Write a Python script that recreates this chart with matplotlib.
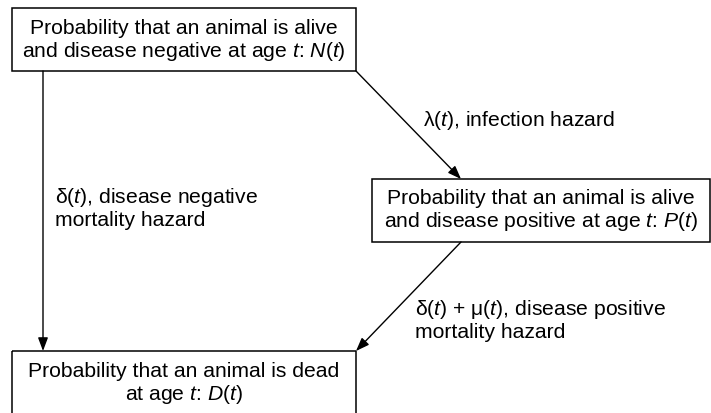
import matplotlib
matplotlib.use("Agg")
import matplotlib.pyplot as plt
from matplotlib.patches import Rectangle

plt.rcParams['font.family'] = ['Liberation Sans', 'DejaVu Sans']
plt.rcParams['mathtext.fontset'] = 'custom'
plt.rcParams['mathtext.rm'] = 'Liberation Sans'
plt.rcParams['mathtext.it'] = 'Liberation Sans:italic'

# Box contents (states)
box_texts = [
    "Probability that an animal is alive\nand disease negative at age $t$: $N$($t$)",
    "Probability that an animal is alive\nand disease positive at age $t$: $P$($t$)",
    "Probability that an animal is dead\nat age $t$: $D$($t$)",
]
# Transition labels
hazard_labels = [
    "λ($t$), infection hazard",
    "δ($t$), disease negative\nmortality hazard",
    "δ($t$) + μ($t$), disease positive\nmortality hazard",
]

W, H = 711, 413
fig = plt.figure(figsize=(W / 100, H / 100), dpi=100)
ax = fig.add_axes([0, 0, 1, 1])
ax.set_xlim(0, W)
ax.set_ylim(H, 0)
ax.axis('off')

FS = 15.2
LS = 1.17
# box geometry: (x0, y0, x1, y1, text centre y) in pixel coordinates
boxes = [(12, 8, 356, 71, 41), (372, 179, 710, 242, 211), (12, 351, 356, 425, 384)]
for (x0, y0, x1, y1, cy), txt in zip(boxes, box_texts):
    ax.add_patch(Rectangle((x0, y0), x1 - x0, y1 - y0, fill=False,
                           edgecolor='black', linewidth=1.1, clip_on=False))
    ax.text((x0 + x1) / 2, cy, txt, ha='center', va='center',
            fontsize=FS, linespacing=LS)

def arrow(p0, p1):
    ax.annotate("", xy=p1, xytext=p0,
                arrowprops=dict(arrowstyle='-|>,head_length=0.8,head_width=0.3',
                                color='black', lw=1.0,
                                shrinkA=0, shrinkB=0))

arrow((43, 71), (43, 351))
arrow((356, 71), (461, 179))
arrow((461, 242), (356, 351))

ax.text(423, 120, hazard_labels[0], ha='left', va='center', fontsize=FS)
ax.text(55, 208, hazard_labels[1], ha='left', va='center', fontsize=FS, linespacing=LS)
ax.text(415, 320, hazard_labels[2], ha='left', va='center', fontsize=FS, linespacing=LS)

fig.savefig("out.png", dpi=100)
